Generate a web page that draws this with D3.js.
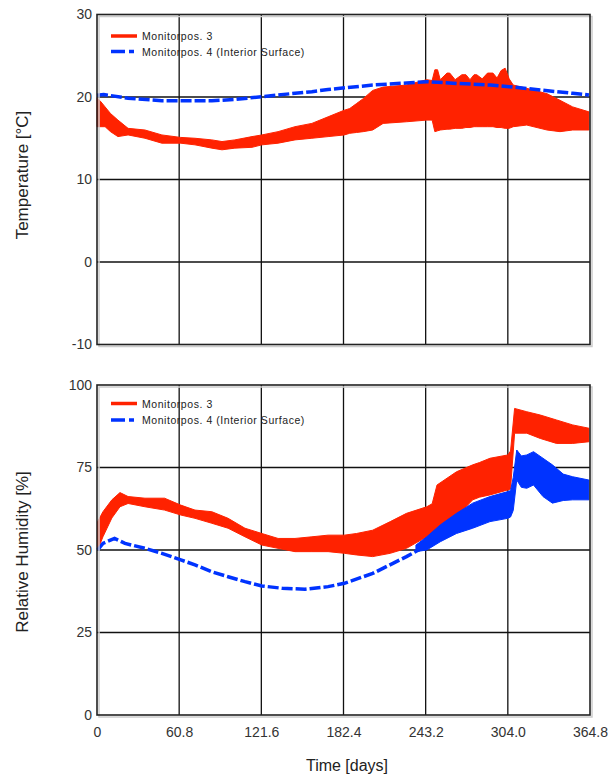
<!DOCTYPE html>
<html>
<head>
<meta charset="utf-8">
<script src="https://cdn.jsdelivr.net/npm/d3@7"></script>
<style>
  body { margin: 0; background: #fff; }
  text { font-family: "Liberation Sans", Arial, sans-serif; }
</style>
</head>
<body>
<div class="chart"></div>
<script>
var xTicks = [0, 60.8, 121.6, 182.4, 243.2, 304.0, 364.8];
var tempTicks = [-10, 0, 10, 20, 30];
var rhTicks = [0, 25, 50, 75, 100];
var seriesNames = ['Monitorpos. 3', 'Monitorpos. 4 (Interior Surface)'];

// temperature, Monitorpos. 3 (band: day, low, high)
var tempRedDays = [0, 3, 6, 10, 15.5, 23, 35.5, 48, 62, 72.5, 85, 92.5, 102, 114.7, 122, 134, 146.5, 159, 171, 183, 187, 192, 197, 204, 211.7, 229, 244, 248, 250, 252, 254, 259, 261, 265, 270, 273, 276, 279, 281, 285, 289, 293, 296, 299, 302, 305, 308, 318, 333, 342.6, 352, 364];
var tempRedLow  = [16.4, 16.4, 16.4, 15.8, 15.2, 15.4, 15.0, 14.4, 14.4, 14.2, 13.8, 13.6, 13.8, 13.9, 14.2, 14.4, 14.8, 15.0, 15.2, 15.4, 15.6, 15.7, 15.8, 16.0, 16.8, 17.0, 17.2, 17.2, 15.8, 15.9, 16.0, 16.1, 16.1, 16.2, 16.2, 16.3, 16.3, 16.4, 16.4, 16.4, 16.4, 16.4, 16.3, 16.3, 16.2, 16.2, 16.4, 16.6, 16.0, 15.8, 16.0, 16.0];
var tempRedHigh = [19.9, 19.4, 18.8, 18.0, 17.2, 16.2, 16.0, 15.4, 15.1, 15.0, 14.8, 14.6, 14.8, 15.2, 15.4, 15.8, 16.4, 16.8, 17.6, 18.4, 18.6, 19.2, 19.8, 20.8, 21.2, 21.45, 22.1, 22.0, 23.3, 23.3, 22.1, 22.9, 22.9, 22.1, 22.7, 22.7, 22.1, 22.7, 22.7, 22.2, 22.9, 22.9, 22.3, 23.2, 23.5, 22.2, 21.45, 21.05, 20.4, 19.6, 18.8, 18.2];

// temperature, Monitorpos. 4
var tempBlueDays = [0, 5, 23, 48, 62, 85, 102, 122, 134, 146.5, 159, 171, 180, 204, 229, 244, 266, 291, 305, 328, 352, 364];
var tempBlue     = [20.2, 20.3, 19.85, 19.55, 19.55, 19.55, 19.7, 20.04, 20.24, 20.45, 20.65, 20.9, 21.05, 21.45, 21.7, 21.85, 21.65, 21.45, 21.25, 20.85, 20.45, 20.25];

// relative humidity, Monitorpos. 3 (band)
var rhRedDays = [0.5, 4.4, 11, 17, 23, 35.5, 50, 62, 72.5, 85, 97, 109.5, 122, 134, 146.5, 159, 171, 183, 192, 204, 217, 229, 244, 248, 251.6, 266, 278, 283, 290.8, 304, 306, 309, 318, 328, 340, 352, 364];
var rhRedLow  = [50, 54, 59.7, 63.1, 64.1, 63.1, 62.1, 60.6, 59.6, 58.1, 56.6, 54, 51.5, 50.5, 49.5, 49.5, 49.5, 49, 48.5, 48, 49, 50.5, 54, 55, 55, 60.1, 65.2, 66, 66.7, 68.2, 68.5, 85.4, 85.4, 83.8, 82.3, 82.3, 82.8];
var rhRedHigh = [58.6, 61.6, 65.2, 67.4, 66.2, 65.7, 65.7, 63.6, 62.1, 61.6, 59.6, 56.6, 55, 53.5, 53.5, 54, 54.5, 54.5, 55, 56, 58.6, 61.1, 63.1, 64, 69.7, 73.7, 75.8, 76.5, 77.8, 78.8, 80, 92.9, 91.9, 90.9, 89.4, 87.9, 86.9];

// relative humidity, Monitorpos. 4 (line part, then band part)
var rhBlueDays = [0.5, 4.4, 13, 20.7, 35.5, 48, 62, 72.5, 85, 97, 109.5, 122, 137, 154, 171, 183, 204, 229, 240];
var rhBlue     = [50, 52, 53.5, 52, 50.5, 49, 47, 45.5, 43.4, 41.9, 40.4, 39.1, 38.4, 38.1, 38.9, 39.9, 42.9, 48, 50.5];
var rhBlueBandDays = [236, 244, 254, 266, 278, 290.8, 304, 306, 308, 310.6, 314, 318, 323, 330, 337, 345, 352, 364];
var rhBlueLow  = [49.5, 50, 52.5, 55, 56.6, 58.6, 59.6, 60, 62, 71.2, 69, 68.7, 69.7, 66.2, 64.2, 65, 65.2, 65.2];
var rhBlueHigh = [51.5, 54, 57.6, 61.1, 64.2, 66.2, 67.7, 68, 72, 80.3, 78.5, 78.8, 79.8, 77.8, 75.8, 73, 72.2, 71.2];

var red = '#ff2200', blue = '#0033ff';
var font = '"Liberation Sans", Arial, sans-serif';

var svg = d3.select('.chart')
  .append('svg')
  .attr('width', 611)
  .attr('height', 777);

var xScale = d3.scaleLinear()
  .domain([0, 364.8])
  .range([97, 590]);

var yTemp = d3.scaleLinear()
  .domain([-10, 30])
  .range([344.5, 14.5]);

var yRH = d3.scaleLinear()
  .domain([0, 100])
  .range([715, 385]);

function drawFrame(yScale, ticks, showX) {
  var g = svg.append('g');
  // grid
  g.selectAll('.vgrid')
    .data(xTicks.slice(1, -1))
    .enter()
    .append('line')
    .attr('x1', (d) => xScale(d))
    .attr('x2', (d) => xScale(d))
    .attr('y1', yScale.range()[0])
    .attr('y2', yScale.range()[1])
    .attr('stroke', '#111')
    .attr('stroke-width', 1.3);
  g.selectAll('.hgrid')
    .data(ticks.slice(1, -1))
    .enter()
    .append('line')
    .attr('x1', xScale.range()[0])
    .attr('x2', xScale.range()[1])
    .attr('y1', (d) => yScale(d))
    .attr('y2', (d) => yScale(d))
    .attr('stroke', '#111')
    .attr('stroke-width', 1.3);

  var yAxis = d3.axisLeft(yScale)
    .tickValues(ticks)
    .tickSize(0)
    .tickPadding(5)
    .tickFormat((d) => String(d));
  var ya = svg.append('g')
    .attr('transform', 'translate(' + xScale.range()[0] + ',0)')
    .call(yAxis);
  ya.select('.domain').remove();
  ya.selectAll('text')
    .attr('font-size', 14)
    .attr('fill', '#333')
    .style('font-family', font);

  if (showX) {
    var xAxis = d3.axisBottom(xScale)
      .tickValues(xTicks)
      .tickSize(0)
      .tickPadding(12)
      .tickFormat((d) => d === 0 ? '0' : d.toFixed(1));
    var xa = svg.append('g')
      .attr('transform', 'translate(0,' + yScale.range()[0] + ')')
      .call(xAxis);
    xa.select('.domain').remove();
    xa.selectAll('text')
      .attr('font-size', 14)
      .attr('fill', '#333')
      .style('font-family', font);
  }
}

function drawBorder(yScale) {
  var x0 = xScale.range()[0], x1 = xScale.range()[1];
  var y0 = yScale.range()[1], y1 = yScale.range()[0];
  // light shadow
  svg.append('rect')
    .attr('x', x0 + 2).attr('y', y0 + 2)
    .attr('width', x1 - x0).attr('height', y1 - y0)
    .attr('fill', 'none').attr('stroke', '#ccc').attr('stroke-width', 1.5);
  svg.append('rect')
    .attr('x', x0).attr('y', y0)
    .attr('width', x1 - x0).attr('height', y1 - y0)
    .attr('fill', 'none').attr('stroke', '#222').attr('stroke-width', 1.6);
}

function band(days, low, high, yScale, color) {
  var data = days.map((d, i) => [d, low[i], high[i]]);
  svg.append('path')
    .datum(data)
    .attr('fill', color)
    .attr('stroke', color)
    .attr('stroke-width', 1)
    .attr('d', d3.area()
      .x((d) => xScale(d[0]))
      .y0((d) => yScale(d[1]))
      .y1((d) => yScale(d[2])));
}

function dashed(days, vals, yScale, color) {
  var data = days.map((d, i) => [d, vals[i]]);
  svg.append('path')
    .datum(data)
    .attr('fill', 'none')
    .attr('stroke', color)
    .attr('stroke-width', 3.5)
    .attr('stroke-dasharray', '11,3')
    .attr('d', d3.line()
      .x((d) => xScale(d[0]))
      .y((d) => yScale(d[1])));
}

function legend(y, gap) {
  var g = svg.append('g');
  g.append('line')
    .attr('x1', 111).attr('x2', 137).attr('y1', y).attr('y2', y)
    .attr('stroke', red).attr('stroke-width', 3.5);
  g.append('line')
    .attr('x1', 111).attr('x2', 137).attr('y1', y + gap).attr('y2', y + gap)
    .attr('stroke', blue).attr('stroke-width', 3.5)
    .attr('stroke-dasharray', '14,4,5,4');
  g.selectAll('text')
    .data(seriesNames)
    .enter()
    .append('text')
    .attr('x', 142)
    .attr('y', (d, i) => y + 4 + i * gap)
    .attr('font-size', 10.5)
    .attr('letter-spacing', 0.55)
    .attr('fill', '#222')
    .text((d) => d);
}

// TEMPERATURE PANEL
drawFrame(yTemp, tempTicks, false);
band(tempRedDays, tempRedLow, tempRedHigh, yTemp, red);
dashed(tempBlueDays, tempBlue, yTemp, blue);
drawBorder(yTemp);
legend(36, 15.5);

// RH PANEL
drawFrame(yRH, rhTicks, true);
band(rhRedDays, rhRedLow, rhRedHigh, yRH, red);
dashed(rhBlueDays, rhBlue, yRH, blue);
band(rhBlueBandDays, rhBlueLow, rhBlueHigh, yRH, blue);
drawBorder(yRH);
legend(403.5, 16.5);

// axis titles
svg.append('text')
  .attr('transform', 'translate(28,175) rotate(-90)')
  .attr('text-anchor', 'middle')
  .attr('font-size', 17)
  .attr('fill', '#222')
  .text('Temperature [°C]');
svg.append('text')
  .attr('transform', 'translate(28,552) rotate(-90)')
  .attr('text-anchor', 'middle')
  .attr('font-size', 17)
  .attr('fill', '#222')
  .text('Relative Humidity [%]');
svg.append('text')
  .attr('x', 347)
  .attr('y', 771)
  .attr('text-anchor', 'middle')
  .attr('font-size', 16)
  .attr('fill', '#222')
  .text('Time [days]');
</script>
</body>
</html>
